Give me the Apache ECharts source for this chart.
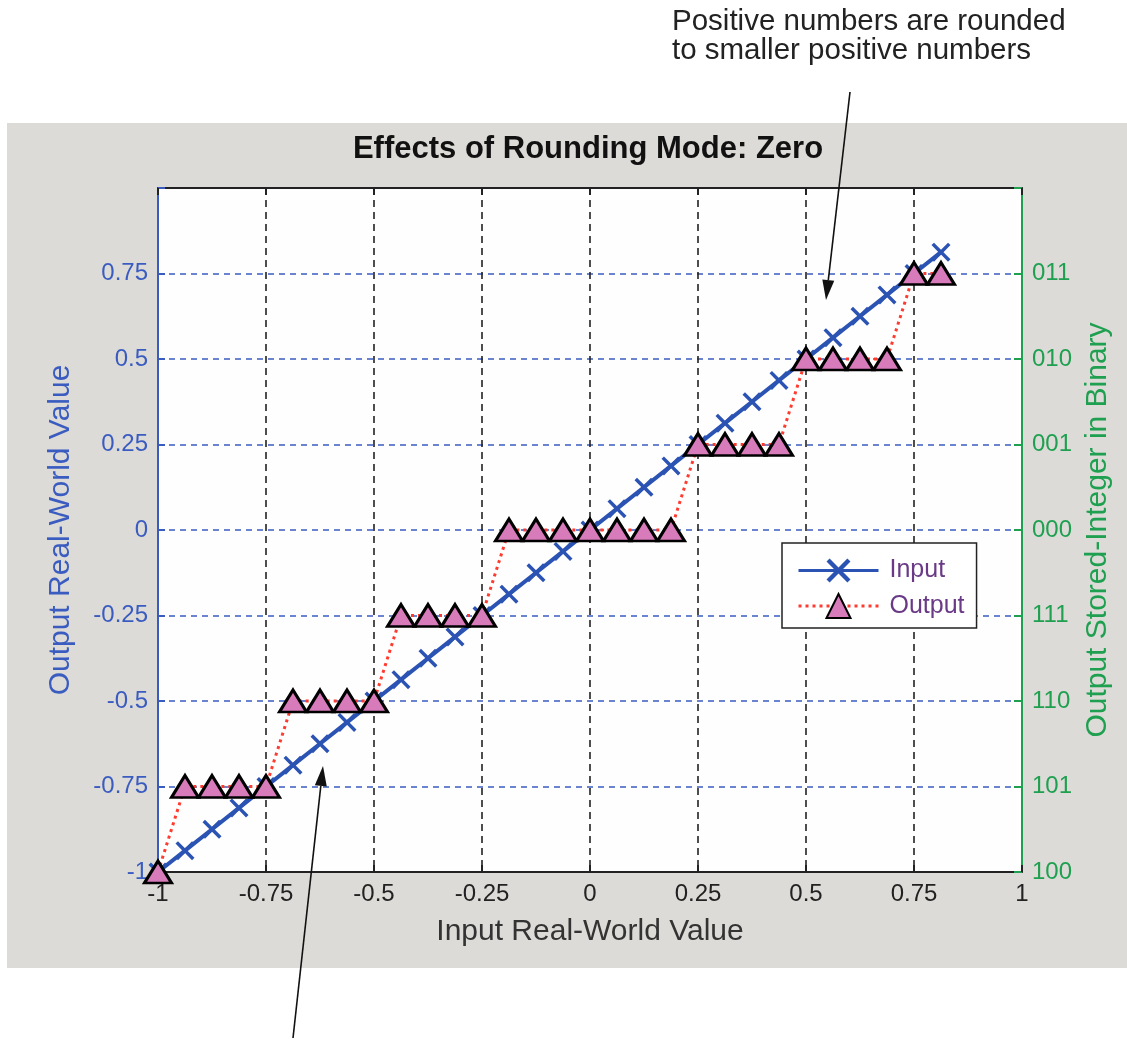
<!DOCTYPE html>
<html>
<head>
<meta charset="utf-8">
<script src="https://cdn.jsdelivr.net/npm/echarts@6/dist/echarts.min.js"></script>
<style>
html,body{margin:0;padding:0;background:#ffffff;}
#chart{width:1127px;height:1039px;}
</style>
</head>
<body>
<div id="chart"></div>
<script>
// ---- data ----
const inputX = [-1, -0.9375, -0.875, -0.8125, -0.75, -0.6875, -0.625, -0.5625, -0.5, -0.4375, -0.375, -0.3125, -0.25, -0.1875, -0.125, -0.0625, 0, 0.0625, 0.125, 0.1875, 0.25, 0.3125, 0.375, 0.4375, 0.5, 0.5625, 0.625, 0.6875, 0.75, 0.8125];
const inputValues = [-1, -0.9375, -0.875, -0.8125, -0.75, -0.6875, -0.625, -0.5625, -0.5, -0.4375, -0.375, -0.3125, -0.25, -0.1875, -0.125, -0.0625, 0, 0.0625, 0.125, 0.1875, 0.25, 0.3125, 0.375, 0.4375, 0.5, 0.5625, 0.625, 0.6875, 0.75, 0.8125];
const outputValues = [-1, -0.75, -0.75, -0.75, -0.75, -0.5, -0.5, -0.5, -0.5, -0.25, -0.25, -0.25, -0.25, 0, 0, 0, 0, 0, 0, 0, 0.25, 0.25, 0.25, 0.25, 0.5, 0.5, 0.5, 0.5, 0.75, 0.75];
const leftTickValues = [-1, -0.75, -0.5, -0.25, 0, 0.25, 0.5, 0.75];
const rightTickLabels = ['100', '101', '110', '111', '000', '001', '010', '011'];
const titleText = 'Effects of Rounding Mode: Zero';
const xName = 'Input Real-World Value';
const yLeftName = 'Output Real-World Value';
const yRightName = 'Output Stored-Integer in Binary';
const noteTop = ['Positive numbers are rounded', 'to smaller positive numbers'];

const FONT = '"Liberation Sans", Arial, sans-serif';
const BLUE = '#3a5cc0';
const GREEN = '#1fa050';
const LINEBLUE = '#2b53b3';

const xSymbol = 'path://M0,2.6 L2.6,0 L10,7.4 L17.4,0 L20,2.6 L12.6,10 L20,17.4 L17.4,20 L10,12.6 L2.6,20 L0,17.4 L7.4,10 Z';

function arrow(x1, y1, x2, y2) {
  const dx = x2 - x1, dy = y2 - y1, L = Math.sqrt(dx*dx + dy*dy);
  const ux = dx / L, uy = dy / L, px = -uy, py = ux;
  const hl = 20, hw = 6;
  const bx = x2 - ux*hl, by = y2 - uy*hl;
  return [
    {type:'line', z:100, shape:{x1:x1, y1:y1, x2:bx, y2:by}, style:{stroke:'#111', lineWidth:1.6}},
    {type:'polygon', z:100, shape:{points:[[x2,y2],[bx+px*hw,by+py*hw],[bx-px*hw,by-py*hw]]}, style:{fill:'#111'}}
  ];
}

const chart = echarts.init(document.getElementById('chart'), null, {renderer:'canvas'});
const option = {
  backgroundColor: '#ffffff',
  animation: false,
  title: {
    text: titleText, left: 588, top: 134, textAlign: 'center', padding: 0,
    textStyle: {fontFamily: FONT, fontSize: 31, fontWeight: 'bold', color: '#111'}
  },
  graphic: [
    {type:'rect', z:-100, shape:{x:7, y:123, width:1120, height:845}, style:{fill:'#dddbd7'}},
    {type:'text', z:100, x:672, y:22, style:{text:noteTop[0], font:'29.5px ' + FONT, fill:'#222', verticalAlign:'middle'}},
    {type:'text', z:100, x:672, y:51, style:{text:noteTop[1], font:'29.5px ' + FONT, fill:'#222', verticalAlign:'middle'}},
    ...arrow(850, 92, 826, 300),
    ...arrow(293, 1038, 323, 766)
  ],
  legend: {
    orient: 'vertical', left: 782, top: 543,
    backgroundColor: '#ffffff', borderColor: '#222', borderWidth: 1.5,
    padding: [15, 12, 9, 15], itemGap: 10, itemWidth: 80, itemHeight: 30,
    lineStyle: {width: 3},
    textStyle: {fontFamily: FONT, fontSize: 25, color: '#6a3a86', padding: [0, 0, 0, 6]},
    data: ['Input', 'Output']
  },
  grid: {left: 158, right: 105, top: 188, bottom: 167, show: true, backgroundColor: '#fefefe', borderWidth: 0},
  xAxis: [
    {
      type: 'value', min: -1, max: 1, interval: 0.25, position: 'bottom',
      name: xName, nameLocation: 'middle', nameGap: 45,
      nameTextStyle: {fontFamily: FONT, fontSize: 30, color: '#333'},
      axisLine: {show: true, onZero: false, lineStyle: {color: '#222', width: 2}},
      axisTick: {show: true, inside: true, length: 7, lineStyle: {color: '#222', width: 2}},
      axisLabel: {fontFamily: FONT, fontSize: 24, color: '#222', margin: 10},
      splitLine: {show: true, lineStyle: {color: '#222', type: [7, 5], width: 1.6}}
    },
    {
      type: 'value', min: -1, max: 1, interval: 0.25, position: 'top',
      axisLine: {show: true, onZero: false, lineStyle: {color: '#222', width: 2}},
      axisTick: {show: true, inside: true, length: 7, lineStyle: {color: '#222', width: 2}},
      axisLabel: {show: false}, splitLine: {show: false}
    }
  ],
  yAxis: [
    {
      type: 'value', min: -1, max: 1, interval: 0.25, position: 'left',
      name: yLeftName, nameLocation: 'middle', nameGap: 82, nameRotate: 90,
      nameTextStyle: {fontFamily: FONT, fontSize: 30, color: BLUE},
      axisLine: {show: true, onZero: false, lineStyle: {color: BLUE, width: 2}},
      axisTick: {show: true, inside: true, length: 7, lineStyle: {color: BLUE, width: 2}},
      axisLabel: {fontFamily: FONT, fontSize: 24, color: BLUE, margin: 10,
        formatter: function (v) { return leftTickValues.indexOf(v) >= 0 ? String(v) : ''; }},
      splitLine: {show: true, lineStyle: {color: BLUE, type: [6, 5], width: 1.6}}
    },
    {
      type: 'value', min: -1, max: 1, interval: 0.25, position: 'right',
      name: yRightName, nameLocation: 'middle', nameGap: 60, nameRotate: 90,
      nameTextStyle: {fontFamily: FONT, fontSize: 30, color: GREEN},
      axisLine: {show: true, onZero: false, lineStyle: {color: GREEN, width: 2}},
      axisTick: {show: true, inside: true, length: 8, lineStyle: {color: GREEN, width: 2}},
      axisLabel: {fontFamily: FONT, fontSize: 24, color: GREEN, margin: 10,
        formatter: function (v) { const i = Math.round((v + 1) / 0.25); return i < rightTickLabels.length ? rightTickLabels[i] : ''; }},
      splitLine: {show: false}
    }
  ],
  series: [
    {
      name: 'Input', type: 'line', xAxisIndex: 0, yAxisIndex: 0,
      data: inputX.map((x, i) => [x, inputValues[i]]),
      symbol: xSymbol, symbolSize: 19, showAllSymbol: true,
      lineStyle: {color: LINEBLUE, width: 4},
      itemStyle: {color: LINEBLUE, borderWidth: 0},
      z: 3
    },
    {
      name: 'Output', type: 'line', xAxisIndex: 0, yAxisIndex: 0,
      data: inputX.map((x, i) => [x, outputValues[i]]),
      symbol: 'triangle', symbolSize: [27, 22], showAllSymbol: true,
      lineStyle: {color: '#ff3b30', width: 3, type: [3, 4]},
      itemStyle: {color: '#d77bbb', borderColor: '#000', borderWidth: 3},
      z: 4
    }
  ]
};
chart.setOption(option);
</script>
</body>
</html>
